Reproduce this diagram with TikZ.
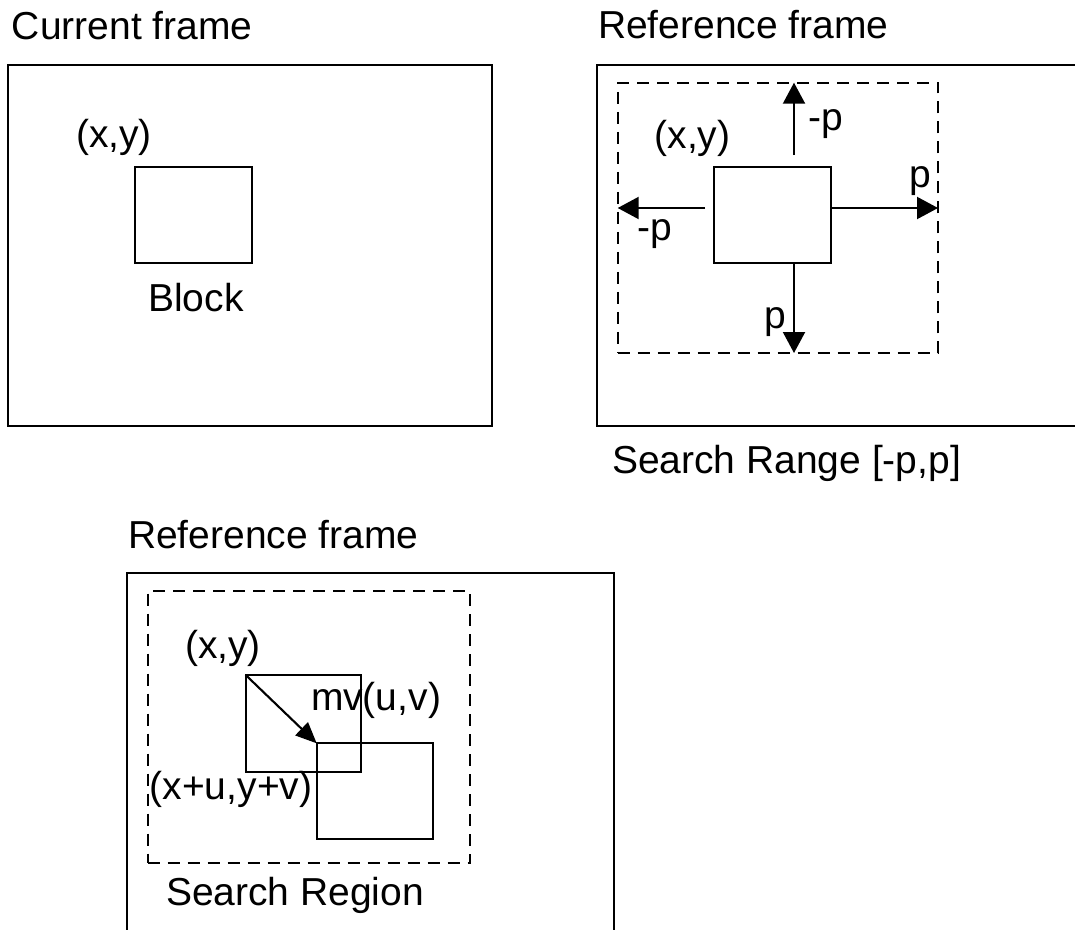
\documentclass[tikz,border=0pt]{standalone}
\usepackage{fontspec}
\setmainfont{Liberation Sans}
\usetikzlibrary{arrows.meta}
\begin{document}
\begin{tikzpicture}[x=1pt,y=-1pt,
  frame/.style={draw,line width=2.1pt,rectangle,inner sep=0pt,outer sep=0pt},
  dashbox/.style={draw,line width=1.9pt,rectangle,inner sep=0pt,outer sep=0pt,dash pattern=on 12pt off 8pt},
  lbl/.style={inner sep=0pt,outer sep=0pt,font=\fontsize{39}{42}\selectfont},
  arr/.style={line width=2.1pt,-{Triangle[length=21pt,width=22pt]}}]
\useasboundingbox (0,0) rectangle (1075,929);
\fill[white] (0,0) rectangle (1075,929);
% ---- Current frame
\node[lbl,anchor=base west] (t1) at (12,39) {Current frame};
\node[frame,minimum width=484pt,minimum height=361pt] (cf) at (250,245.5) {};
\node[frame,minimum width=117pt,minimum height=96pt] (cb) at (193.5,215) {};
\node[lbl,anchor=base] (cxy) at (114,147) {(x,y)};
\node[lbl,anchor=base] (blk) at (196,311) {Block};
% ---- Reference frame (search range)
\node[lbl,anchor=base west] (t2) at (598,38) {Reference frame};
\node[frame,minimum width=490pt,minimum height=361pt] (rf) at (842,245.5) {};
\node[dashbox,minimum width=320.3pt,minimum height=270.3pt] (rd) at (777.85,217.85) {};
\node[frame,minimum width=116.7pt,minimum height=96pt] (rb) at (772.35,214.7) {};
\node[lbl,anchor=base] (rxy) at (692.5,148) {(x,y)};
\coordinate (us) at (794,155);
\coordinate (ue) at (us |- rd.north);
\coordinate (ds) at (us |- rb.south);
\coordinate (de) at (us |- rd.south);
\coordinate (ls) at (705,208);
\coordinate (le) at (rd.west |- ls);
\coordinate (rs) at (rb.east |- ls);
\coordinate (re) at (rd.east |- ls);
\draw[arr] (us) -- (ue);
\draw[arr] (ls) -- (le);
\draw[arr] (rs) -- (re);
\draw[arr] (ds) -- (de);
\node[lbl,anchor=base] (pu) at (826,130) {-p};
\node[lbl,anchor=base] (pl) at (655,240) {-p};
\node[lbl,anchor=base] (pr) at (920,187) {p};
\node[lbl,anchor=base] (pd) at (775,328) {p};
\node[lbl,anchor=base west] (sr) at (612,473) {Search Range [-p,p]};
% ---- Reference frame (search region)
\node[lbl,anchor=base west] (t3) at (128,548) {Reference frame};
\node[frame,minimum width=487pt,minimum height=380pt] (bf) at (370.8,763.3) {};
\node[dashbox,minimum width=322.3pt,minimum height=272.6pt] (bd) at (308.85,727) {};
\node[frame,minimum width=115pt,minimum height=97.3pt] (b1) at (303.2,723.65) {};
\node[frame,minimum width=116.6pt,minimum height=96pt] (b2) at (375,791.3) {};
\draw[arr,-{Triangle[length=21pt,width=18pt]}] (b1.north west) -- (b2.north west);
\node[lbl,anchor=base] (bxy) at (223,658) {(x,y)};
\node[lbl,anchor=base] (mv) at (376,710) {mv(u,v)};
\node[lbl,anchor=base] (xuv) at (231,799) {(x+u,y+v)};
\node[lbl,anchor=base west] (sreg) at (166,905) {Search Region};
\end{tikzpicture}
\end{document}
